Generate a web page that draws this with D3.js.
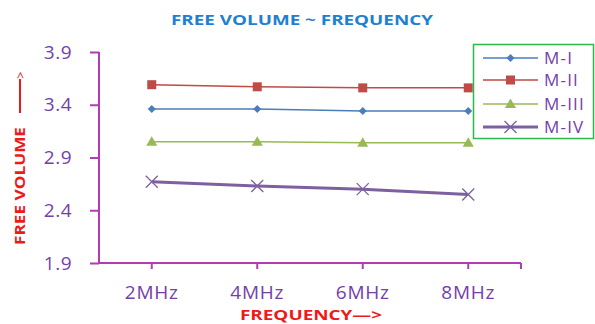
<!DOCTYPE html>
<html>
<head>
<meta charset="utf-8">
<script src="https://cdn.jsdelivr.net/npm/d3@7/dist/d3.min.js"></script>
<style>
  html, body { margin: 0; padding: 0; background: #fff; }
  svg { display: block; }
</style>
</head>
<body>
<svg id="chart" width="595" height="324"></svg>
<script>
// Free volume measured at four frequencies for four samples
const categories = ["2MHz", "4MHz", "6MHz", "8MHz"];
const seriesNames = ["M-I", "M-II", "M-III", "M-IV"];
const valuesMI   = [3.36, 3.36, 3.34, 3.34];
const valuesMII  = [3.59, 3.57, 3.56, 3.56];
const valuesMIII = [3.05, 3.05, 3.04, 3.04];
const valuesMIV  = [2.67, 2.63, 2.60, 2.55];
const yTicks = [1.9, 2.4, 2.9, 3.4, 3.9];

const series = [
  { name: seriesNames[0], values: valuesMI,   color: "#4A7EBB", marker: "diamond",  width: 1.5 },
  { name: seriesNames[1], values: valuesMII,  color: "#BE4B48", marker: "square",   width: 1.5 },
  { name: seriesNames[2], values: valuesMIII, color: "#98B954", marker: "triangle", width: 1.5 },
  { name: seriesNames[3], values: valuesMIV,  color: "#7D60A0", marker: "cross",    width: 3 }
];

const svg = d3.select("#chart");
const plot = { left: 99, right: 521, top: 52, bottom: 263 };
const axisColor = "#B23CB4";
const tickTextColor = "#7440A8";
const font = "'Open Sans', 'DejaVu Sans', sans-serif";

const x = d3.scaleBand().domain(categories).range([plot.left, plot.right]);
const y = d3.scaleLinear().domain([1.9, 3.9]).range([plot.bottom, plot.top]);
const cx = c => x(c) + x.bandwidth() / 2;

// Title
svg.append("text")
  .attr("x", 171).attr("y", 25)
  .attr("textLength", 262).attr("lengthAdjust", "spacingAndGlyphs")
  .attr("font-family", font).attr("font-weight", "bold")
  .attr("font-size", 15).attr("fill", "#1F7FD0")
  .text("FREE VOLUME ~ FREQUENCY");

// Y axis
const yAxis = d3.axisLeft(y).tickValues(yTicks).tickSize(9).tickPadding(18)
  .tickFormat(d3.format(".1f"));
const gy = svg.append("g").attr("transform", `translate(${plot.left},0)`).call(yAxis);
gy.select(".domain").attr("stroke", axisColor).attr("stroke-width", 2)
  .attr("d", `M0,${plot.top}V${plot.bottom}`);
gy.selectAll(".tick line").attr("stroke", axisColor).attr("stroke-width", 2);
gy.selectAll(".tick text").attr("fill", tickTextColor)
  .attr("font-family", font).attr("font-size", 19).attr("letter-spacing", 0.5);

// X axis: ticks under each category plus one closing the axis
const xAxis = d3.axisBottom(x).tickSize(6).tickPadding(17);
const gx = svg.append("g").attr("transform", `translate(0,${plot.bottom})`).call(xAxis);
gx.select(".domain").attr("stroke", axisColor).attr("stroke-width", 2)
  .attr("d", `M${plot.left},0H${plot.right}`);
gx.selectAll(".tick line").attr("stroke", axisColor).attr("stroke-width", 2);
gx.append("line").attr("x1", plot.right).attr("x2", plot.right)
  .attr("y1", 0).attr("y2", 6).attr("stroke", axisColor).attr("stroke-width", 2);
gx.selectAll(".tick text").attr("fill", tickTextColor)
  .attr("font-family", font).attr("font-size", 19).attr("letter-spacing", 0.8);

// Axis titles
svg.append("text")
  .attr("transform", "translate(24.5,245) rotate(-90)")
  .attr("textLength", 118).attr("lengthAdjust", "spacingAndGlyphs")
  .attr("font-family", font).attr("font-weight", "bold")
  .attr("font-size", 14).attr("fill", "#F01818")
  .text("FREE VOLUME");
svg.append("line")
  .attr("x1", 20).attr("x2", 20).attr("y1", 113).attr("y2", 79)
  .attr("stroke", "#F01818").attr("stroke-width", 2);
svg.append("text")
  .attr("transform", "translate(24.5,79) rotate(-90)")
  .attr("font-family", font).attr("font-size", 13).attr("fill", "#F01818")
  .text(">");
svg.append("text")
  .attr("x", 240).attr("y", 320)
  .attr("textLength", 142).attr("lengthAdjust", "spacingAndGlyphs")
  .attr("font-family", font).attr("font-weight", "bold")
  .attr("font-size", 14).attr("fill", "#F01818")
  .text("FREQUENCY\u2014>");

// Marker shapes
function drawMarker(g, type, px, py, color) {
  if (type === "diamond") {
    g.append("path").attr("d", `M${px},${py-4}L${px+4},${py}L${px},${py+4}L${px-4},${py}Z`)
      .attr("fill", color);
  } else if (type === "square") {
    g.append("rect").attr("x", px - 4.5).attr("y", py - 4.5).attr("width", 9).attr("height", 9)
      .attr("fill", color);
  } else if (type === "triangle") {
    g.append("path").attr("d", `M${px},${py-5.5}L${px+5.5},${py+4}L${px-5.5},${py+4}Z`)
      .attr("fill", color);
  } else if (type === "cross") {
    g.append("path").attr("d", `M${px-6},${py-6}L${px+6},${py+6}M${px+6},${py-6}L${px-6},${py+6}`)
      .attr("stroke", color).attr("stroke-width", 1.3).attr("fill", "none");
  }
}

// Series lines and markers
const line = d3.line().x((d, i) => cx(categories[i])).y(d => y(d));
series.forEach(s => {
  const g = svg.append("g");
  g.append("path").datum(s.values).attr("d", line)
    .attr("fill", "none").attr("stroke", s.color).attr("stroke-width", s.width);
  s.values.forEach((v, i) => drawMarker(g, s.marker, cx(categories[i]), y(v), s.color));
});

// Legend
const legend = svg.append("g");
legend.append("rect").attr("x", 473.5).attr("y", 44.5).attr("width", 120).attr("height", 94)
  .attr("fill", "#fff").attr("stroke", "#2DB84C").attr("stroke-width", 1.5);
const legendRows = [58, 80, 104, 127];
series.forEach((s, i) => {
  const ly = legendRows[i];
  legend.append("line").attr("x1", 483).attr("x2", 538).attr("y1", ly).attr("y2", ly)
    .attr("stroke", s.color).attr("stroke-width", s.width);
  drawMarker(legend, s.marker, 510.5, ly, s.color);
  legend.append("text").attr("x", 544).attr("y", ly + 6)
    .attr("font-family", font).attr("font-size", 17).attr("letter-spacing", 1.2)
    .attr("fill", "#7440A8")
    .text(s.name);
});
</script>
</body>
</html>
